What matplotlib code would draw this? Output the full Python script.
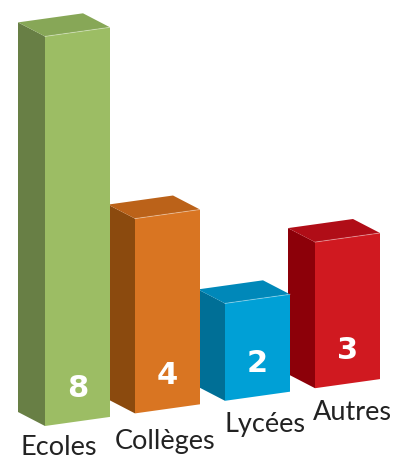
import matplotlib
matplotlib.use('AGG')
import matplotlib.pyplot as plt
from matplotlib.patches import Polygon

# chart data
categories = ['Ecoles', 'Collèges', 'Lycées', 'Autres']
values = [8, 4, 2, 3]

front_colors = ['#9cbd64', '#d97522', '#00a0d6', '#d01920']
side_colors = ['#687f45', '#8b4a0e', '#006f96', '#8c0009']
top_colors = ['#87a757', '#bb6219', '#0088b9', '#b00d17']

# layout (pixels)
W, H = 393, 459
unit = 48.7          # px per value
bar_w = 65
step_x = 90
start_x, start_y = 45, 426
slope = 0.14         # baseline rises to the right
depth = (-27, -14)   # back offset of the box

label_x = [59, 165, 265, 352]
label_y = [455, 449, 432, 420]

fig = plt.figure(figsize=(W / 100, H / 100), dpi=100)
ax = fig.add_axes([0, 0, 1, 1])
ax.set_xlim(0, W)
ax.set_ylim(H, 0)
ax.axis('off')

dx, dy = depth
n = len(values)
# draw right to left so the left boxes overlap the ones behind them
for i in reversed(range(n)):
    x0 = start_x + i * step_x
    y0 = start_y - slope * (x0 - start_x)
    h = values[i] * unit
    x1 = x0 + bar_w
    y1 = y0 - slope * bar_w
    z = 10 + (n - i) * 3

    side = [(x0, y0), (x0, y0 - h), (x0 + dx, y0 - h + dy), (x0 + dx, y0 + dy)]
    top = [(x0, y0 - h), (x1, y1 - h), (x1 + dx, y1 - h + dy), (x0 + dx, y0 - h + dy)]
    front = [(x0, y0), (x1, y1), (x1, y1 - h), (x0, y0 - h)]

    ax.add_patch(Polygon(side, closed=True, fc=side_colors[i], ec='none', zorder=z))
    ax.add_patch(Polygon(top, closed=True, fc=top_colors[i], ec='none', zorder=z))
    ax.add_patch(Polygon(front, closed=True, fc=front_colors[i], ec='none', zorder=z + 1))
    # thin highlight on the front top edge
    ax.plot([x0, x1], [y0 - h, y1 - h], color='white', alpha=0.35, lw=0.7, zorder=z + 2)

    cx = (x0 + x1) / 2
    cy = (y0 + y1) / 2 - 33
    ax.text(cx, cy, str(values[i]), color='white', fontsize=22, fontweight='bold',
            family='DejaVu Sans', ha='center', va='center', zorder=z + 2)

for i, name in enumerate(categories):
    ax.text(label_x[i], label_y[i], name, color='#222222', fontsize=19.5,
            family='Lato', ha='center', va='baseline', zorder=30)

fig.savefig('out.png', dpi=100, facecolor='white')
